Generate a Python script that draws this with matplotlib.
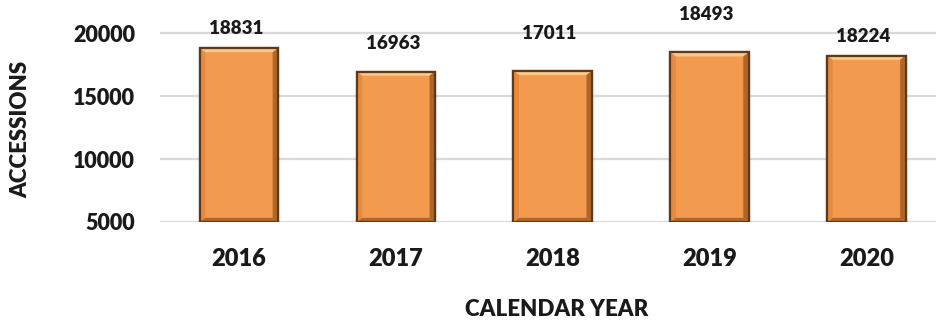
import matplotlib.pyplot as plt
from matplotlib.patches import Polygon

# ── Data ──────────────────────────────────────────────
years = ["2016", "2017", "2018", "2019", "2020"]
accessions = [18831, 16963, 17011, 18493, 18224]
# label lift above each bar (pixels)
label_lift = [20, 28, 37, 38, 19]

plt.rcParams["font.family"] = ["Lato", "DejaVu Sans"]

fig = plt.figure(figsize=(9.37, 3.26), dpi=100)
ax = fig.add_axes([0.1708, 1 - 222 / 326, 0.8292, 222 / 326])

fill = "#F29B4F"
edge = "#5E3A1A"
light = "#F9C98C"
shade = "#B0652A"

x = range(len(years))
bars = ax.bar(x, accessions, width=0.5, color=fill,
              edgecolor=edge, linewidth=1.6, zorder=3)

# bevel look: light strip on top, darker strips right and bottom
bx_w = 0.035
by_w = 330
for bar in bars:
    x0 = bar.get_x()
    x1 = x0 + bar.get_width()
    top = bar.get_height()
    bot = 5000
    ax.add_patch(Polygon([(x0, top), (x1, top), (x1 - bx_w, top - by_w),
                          (x0 + bx_w, top - by_w)], closed=True,
                         facecolor=light, edgecolor="none", zorder=4))
    ax.add_patch(Polygon([(x1, top), (x1, bot), (x1 - bx_w, bot + by_w),
                          (x1 - bx_w, top - by_w)], closed=True,
                         facecolor=shade, edgecolor="none", zorder=4))
    ax.add_patch(Polygon([(x0, bot), (x1, bot), (x1 - bx_w, bot + by_w),
                          (x0 + bx_w, bot + by_w)], closed=True,
                         facecolor=shade, edgecolor="none", zorder=4))
    ax.add_patch(Polygon([(x0, top), (x0, bot), (x0 + bx_w, bot + by_w),
                          (x0 + bx_w, top - by_w)], closed=True,
                         facecolor="#E58A3E", edgecolor="none", zorder=4))
    ax.add_patch(plt.Rectangle((x0, bot), x1 - x0, top - bot, facecolor="none",
                               edgecolor=edge, linewidth=1.6, zorder=5))

# value labels above bars
for bar, val, lift in zip(bars, accessions, label_lift):
    ax.annotate(str(val), (bar.get_x() + bar.get_width() / 2, val),
                xytext=(-3, lift), textcoords="offset pixels",
                ha="center", va="center", fontsize=13.5, fontweight="heavy",
                color="#1a1a1a", zorder=6)

ax.set_xlim(-0.503, 4.45)
ax.set_ylim(5000, 22650)
ax.set_yticks([5000, 10000, 15000, 20000])
ax.set_xticks(list(x))
ax.set_xticklabels(years)
ax.yaxis.grid(True, color="#d9d9d9", linewidth=1.6, zorder=0)
ax.set_axisbelow(True)
for s in ax.spines.values():
    s.set_visible(False)
ax.tick_params(axis="y", length=0, pad=18, labelsize=15.5, labelcolor="#1a1a1a")
ax.tick_params(axis="x", length=0, pad=19, labelsize=17, labelcolor="#1a1a1a")
for lab in ax.get_xticklabels() + ax.get_yticklabels():
    lab.set_fontweight("heavy")

fig.text(557 / 937, 1 - 310 / 326, "CALENDAR YEAR", ha="center", va="center",
         fontsize=16, fontweight="heavy", color="#1a1a1a")
fig.text(21 / 937, 1 - 129 / 326, "ACCESSIONS", ha="center", va="center",
         rotation=90, fontsize=16, fontweight="heavy", color="#1a1a1a")

plt.savefig("out.png", dpi=100)
